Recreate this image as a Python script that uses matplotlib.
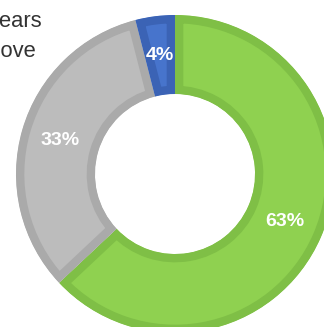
import matplotlib.pyplot as plt

# donut slices, clockwise from 12 o'clock
shares = [63, 33, 4]
fill_colors = ['#8fd150', '#bcbcbc', '#4774cc']
edge_colors = ['#7fbf46', '#aaaaaa', '#3b63b5']

# leftover legend lines, mostly off the left edge
legend_lines = ['years', 'above']

W, H = 324, 327
cx, cy = 175, H - 174
R_out, R_in = 159, 80

fig = plt.figure(figsize=(W / 100, H / 100), dpi=100)
ax = fig.add_axes([0, 0, 1, 1])

wedges, _, autotexts = ax.pie(
    shares, center=(cx, cy), radius=R_out, startangle=90, counterclock=False,
    colors=fill_colors, autopct='%d%%', pctdistance=(R_out + R_in) / 2 / R_out,
    wedgeprops=dict(width=R_out - R_in),
    textprops=dict(color='white', fontsize=14, fontweight='bold',
                   family=['Liberation Sans Narrow', 'Liberation Sans']))

# darker band along each slice's inside edge (stroke clipped to the slice)
for w, ec in zip(wedges, edge_colors):
    w.set_edgecolor(ec)
    w.set_linewidth(12)
    w.set_clip_path(w)
    w.set_clip_on(True)

ax.text(43, H - 27, legend_lines[0], ha='right', va='baseline',
        fontsize=15.8, color='#333333', family='Liberation Sans')
ax.text(36, H - 57, legend_lines[1], ha='right', va='baseline',
        fontsize=15.8, color='#333333', family='Liberation Sans')

ax.set_xlim(0, W)
ax.set_ylim(0, H)
ax.set_aspect('auto')
ax.axis('off')

fig.savefig('out.png', dpi=100)
